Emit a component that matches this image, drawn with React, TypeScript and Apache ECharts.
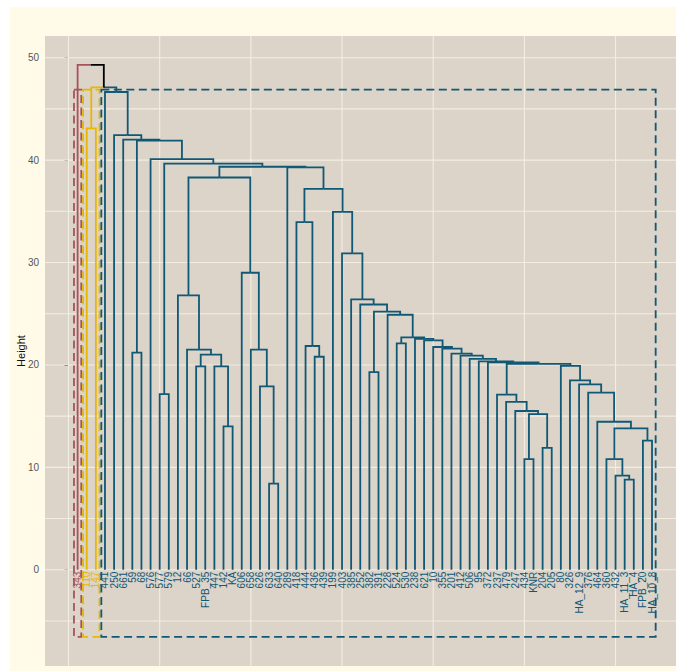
import { useEffect, useRef } from "react";
import * as echarts from "echarts";

const leafLabels = [
  "343", "110", "147", "441", "250", "661", "59", "68", "576", "577", "579", "12", "66", "527",
  "FPB_35", "447", "142", "KA", "606", "658", "626", "633", "640", "289", "418", "444", "436",
  "439", "199", "403", "385", "252", "382", "391", "228", "524", "530", "238", "621", "10", "355",
  "201", "412", "506", "95", "372", "237", "479", "247", "434", "KNR", "204", "205", "80", "326",
  "HA_12_9", "376", "464", "360", "432", "HA_11_3", "HA_4", "FPB_20", "HA_10_8",
];

// [node name, left child, right child, merge height]
const merges: [string, string, string, number][] = [
  ["m1", "110", "147", 43.1],
  ["m2", "59", "68", 21.2],
  ["m3", "577", "579", 17.15],
  ["m4", "142", "KA", 14.0],
  ["m5", "447", "m4", 19.85],
  ["m6", "527", "FPB_35", 19.85],
  ["m7", "m6", "m5", 21.0],
  ["m8", "66", "m7", 21.5],
  ["m9", "12", "m8", 26.8],
  ["m10", "633", "640", 8.4],
  ["m11", "626", "m10", 17.9],
  ["m12", "658", "m11", 21.5],
  ["m13", "606", "m12", 29.0],
  ["m14", "m9", "m13", 38.3],
  ["m15", "436", "439", 20.8],
  ["m16", "444", "m15", 21.85],
  ["m17", "418", "m16", 33.95],
  ["m18", "382", "391", 19.3],
  ["m19", "524", "530", 22.1],
  ["m20", "HA_11_3", "HA_4", 8.8],
  ["m21", "432", "m20", 9.2],
  ["m22", "360", "m21", 10.8],
  ["m23", "FPB_20", "HA_10_8", 12.6],
  ["m24", "m22", "m23", 13.8],
  ["m25", "464", "m24", 14.45],
  ["m26", "376", "m25", 17.3],
  ["m27", "HA_12_9", "m26", 18.1],
  ["m28", "326", "m27", 18.5],
  ["m29", "80", "m28", 19.9],
  ["m30", "434", "KNR", 10.8],
  ["m31", "204", "205", 11.9],
  ["m32", "m30", "m31", 15.2],
  ["m33", "247", "m32", 15.5],
  ["m34", "479", "m33", 16.4],
  ["m35", "237", "m34", 17.1],
  ["m36", "m35", "m29", 20.1],
  ["m37", "372", "m36", 20.25],
  ["m38", "95", "m37", 20.35],
  ["m39", "506", "m38", 20.6],
  ["m40", "412", "m39", 20.9],
  ["m41", "201", "m40", 21.1],
  ["m42", "355", "m41", 21.6],
  ["m43", "10", "m42", 21.75],
  ["m44", "621", "m43", 22.4],
  ["m45", "238", "m44", 22.55],
  ["m46", "m19", "m45", 22.7],
  ["m47", "228", "m46", 24.9],
  ["m48", "m18", "m47", 25.2],
  ["m49", "252", "m48", 25.9],
  ["m50", "385", "m49", 26.4],
  ["m51", "403", "m50", 30.9],
  ["m52", "199", "m51", 34.95],
  ["m53", "m17", "m52", 37.2],
  ["m54", "289", "m53", 39.3],
  ["m55", "m14", "m54", 39.35],
  ["m56", "m3", "m55", 39.65],
  ["m57", "576", "m56", 40.1],
  ["m58", "m2", "m57", 41.9],
  ["m59", "661", "m58", 42.0],
  ["m60", "250", "m59", 42.45],
  ["m61", "441", "m60", 46.65],
  ["m62", "m1", "m61", 47.1],
  ["m63", "343", "m62", 49.3],
];

const clusterCount = 3;
const clusterColors = ["#A6545A", "#E7B800", "#0F5876"];
const rectBottom = -6.55;
const rectPad = 0.4;
const yTickValues = [0, 10, 20, 30, 40, 50];
const yGridValues = [-5, 0, 5, 10, 15, 20, 25, 30, 35, 40, 45, 50];
const xGridValues = [0, 10, 20, 30, 40, 50, 60];
const xRange = [-2.578, 66.63];
const yRange = [-9.4, 52.12];

function buildDendrogram() {
  const pos: Record<string, { x: number; h: number; leaves: number[] }> = {};
  leafLabels.forEach((l, i) => {
    pos[l] = { x: i + 1, h: 0, leaves: [i] };
  });
  merges.forEach(([name, a, b, h]) => {
    pos[name] = { x: (pos[a].x + pos[b].x) / 2, h, leaves: [...pos[a].leaves, ...pos[b].leaves] };
  });
  const sorted = merges.map((m) => m[3]).sort((p, q) => q - p);
  const cut = (sorted[clusterCount - 2] + sorted[clusterCount - 1]) / 2;
  const clusterRoots: string[] = [];
  merges.forEach(([, a, b, h]) => {
    if (h > cut) {
      [a, b].forEach((c) => {
        if (pos[c].h < cut) clusterRoots.push(c);
      });
    }
  });
  clusterRoots.sort((p, q) => Math.min(...pos[p].leaves) - Math.min(...pos[q].leaves));
  const leafCluster: number[] = new Array(leafLabels.length).fill(-1);
  clusterRoots.forEach((c, ci) => pos[c].leaves.forEach((li) => (leafCluster[li] = ci)));
  const nodeCluster = (n: string) => (pos[n].h < cut ? leafCluster[pos[n].leaves[0]] : -1);
  const edges: number[][] = [];
  merges.forEach(([name, a, b, h]) => {
    [a, b].forEach((c) => {
      edges.push([pos[name].x, h, pos[c].x, pos[c].h, nodeCluster(c)]);
    });
  });
  const rects = clusterRoots.map((c, ci) => [
    Math.min(...pos[c].leaves) + 1 - rectPad,
    cut,
    Math.max(...pos[c].leaves) + 1 + rectPad,
    rectBottom,
    ci,
  ]);
  const labels = leafLabels.map((_, i) => [i + 1, 0, i, leafCluster[i]]);
  return { edges, rects, labels };
}

export default function App() {
  const ref = useRef<HTMLDivElement>(null);
  useEffect(() => {
    if (!ref.current) return;
    const chart = echarts.init(ref.current, null, { renderer: "svg" });
    const { edges, rects, labels } = buildDendrogram();
    const colorOf = (ci: number) => (ci < 0 ? "#000000" : clusterColors[ci]);
    const gridColor = "#F4EEE1";
    chart.setOption({
      animation: false,
      backgroundColor: "#FFFBE8",
      grid: {
        show: true,
        left: 35,
        top: 29,
        right: 0,
        bottom: 5,
        containLabel: false,
        outerBoundsMode: "none",
        backgroundColor: "#DCD3C9",
        borderWidth: 0,
      },
      xAxis: {
        type: "value",
        min: xRange[0],
        max: xRange[1],
        axisLine: { show: false },
        axisTick: { show: false },
        axisLabel: { show: false },
        splitLine: { show: false },
      },
      yAxis: {
        type: "value",
        min: yRange[0],
        max: yRange[1],
        name: "Height",
        nameLocation: "middle",
        nameGap: 19,
        nameMoveOverlap: false,
        nameTextStyle: { fontSize: 11, color: "#111", fontFamily: "Liberation Sans, Arial, sans-serif" },
        axisLine: { show: false },
        splitLine: { show: false },
        axisTick: {
          show: true,
          customValues: yTickValues,
          length: 4,
          lineStyle: { color: "#333", width: 1 },
        },
        axisLabel: {
          customValues: yTickValues,
          color: "#555",
          fontSize: 10,
          margin: 6,
          fontFamily: "Liberation Sans, Arial, sans-serif",
        },
      },
      series: [
        {
          type: "custom",
          name: "hgrid",
          silent: true,
          z: 1,
          data: yGridValues.map((v) => [xRange[0], v]),
          renderItem: (params: any, api: any) => {
            const cs = params.coordSys;
            const p = api.coord([api.value(0), api.value(1)]);
            return {
              type: "line",
              shape: { x1: cs.x, y1: p[1], x2: cs.x + cs.width, y2: p[1] },
              style: { stroke: gridColor, lineWidth: 1.1 },
            };
          },
        },
        {
          type: "custom",
          name: "vgrid",
          silent: true,
          z: 1,
          data: xGridValues.map((v) => [v, yRange[0]]),
          renderItem: (params: any, api: any) => {
            const cs = params.coordSys;
            const p = api.coord([api.value(0), api.value(1)]);
            return {
              type: "line",
              shape: { x1: p[0], y1: cs.y, x2: p[0], y2: cs.y + cs.height },
              style: { stroke: gridColor, lineWidth: 1.1 },
            };
          },
        },
        {
          type: "custom",
          name: "branches",
          silent: true,
          z: 2,
          data: edges,
          encode: { x: [0, 2], y: [1, 3] },
          renderItem: (_params: any, api: any) => {
            const px = api.value(0);
            const ph = api.value(1);
            const cx = api.value(2);
            const ch = api.value(3);
            const ci = api.value(4);
            const a = api.coord([px, ph]);
            const b = api.coord([cx, ph]);
            const c = api.coord([cx, ch]);
            return {
              type: "polyline",
              shape: { points: [a, b, c] },
              style: { stroke: colorOf(ci), fill: "none", lineWidth: 1.8 },
            };
          },
        },
        {
          type: "custom",
          name: "rects",
          silent: true,
          z: 3,
          data: rects,
          encode: { x: [0, 2], y: [1, 3] },
          renderItem: (_params: any, api: any) => {
            const tl = api.coord([api.value(0), api.value(1)]);
            const br = api.coord([api.value(2), api.value(3)]);
            return {
              type: "rect",
              shape: { x: tl[0], y: tl[1], width: br[0] - tl[0], height: br[1] - tl[1] },
              style: {
                fill: "none",
                stroke: colorOf(api.value(4)),
                lineWidth: 1.8,
                lineDash: [8, 4.5],
              },
            };
          },
        },
        {
          type: "custom",
          name: "labels",
          silent: true,
          z: 4,
          data: labels,
          renderItem: (_params: any, api: any) => {
            const p = api.coord([api.value(0), api.value(1)]);
            return {
              type: "text",
              x: p[0],
              y: p[1] + 2,
              rotation: Math.PI / 2,
              style: {
                text: leafLabels[api.value(2)],
                fill: colorOf(api.value(3)),
                fontSize: 10,
                fontFamily: "Liberation Sans, Arial, sans-serif",
                align: "right",
                verticalAlign: "middle",
              },
            };
          },
        },
      ],
    });
    return () => chart.dispose();
  }, []);
  return (
    <div style={{ position: "fixed", left: 0, top: 0, width: 676, height: 671, background: "#fff" }}>
      <div ref={ref} style={{ position: "absolute", left: 10, top: 7, width: 666, height: 664 }} />
    </div>
  );
}
